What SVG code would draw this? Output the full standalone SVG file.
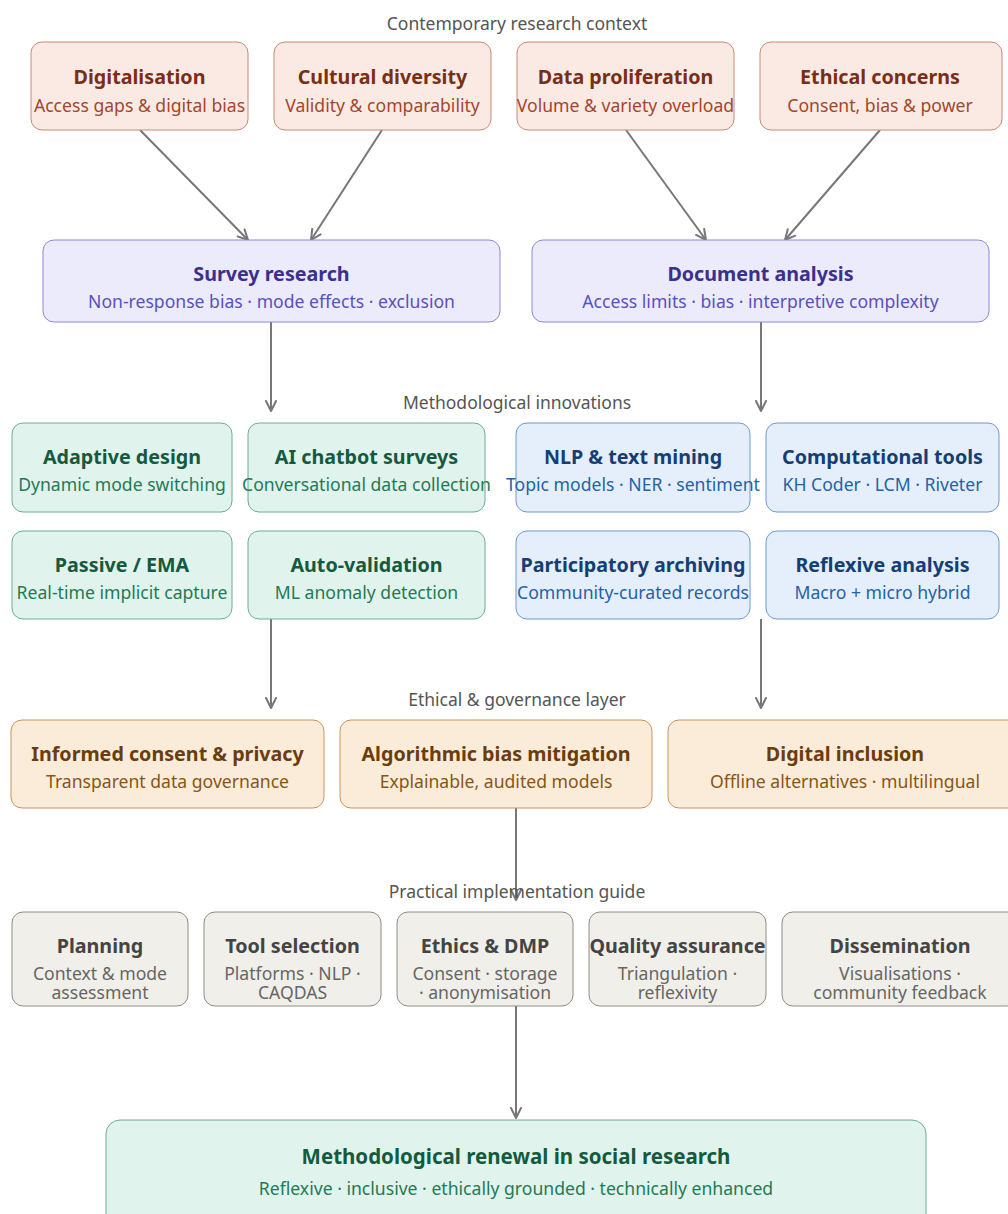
<svg xmlns="http://www.w3.org/2000/svg" width="1008" height="1214" viewBox="0 0 1008 1214">
<defs>
<marker id="ah" viewBox="0 0 12 12" refX="11" refY="6" markerWidth="12" markerHeight="12" markerUnits="userSpaceOnUse" orient="auto">
<path d="M1,1 L11,6 L1,11" fill="none" stroke="#777" stroke-width="2" stroke-linecap="round" stroke-linejoin="round"/>
</marker>
<style>
text{font-family:"Noto Sans","Open Sans","Liberation Sans",sans-serif;text-anchor:middle}
.sec{font-size:17.5px;fill:#555}
.t{font-size:19.7px;font-weight:bold}
.s{font-size:17.6px}
.red rect{fill:#fbeae4;stroke:#c98a75}
.red .t{fill:#7a2e15}.red .s{fill:#a4462a}
.pur rect{fill:#ecebfc;stroke:#8f86d8}
.pur .t{fill:#3b2f8f}.pur .s{fill:#5b4fc0}
.grn rect{fill:#e0f3ec;stroke:#6aae92}
.grn .t{fill:#145a3e}.grn .s{fill:#1f7a55}
.blu rect{fill:#e4effb;stroke:#6d98d2}
.blu .t{fill:#153e75}.blu .s{fill:#2462a8}
.org rect{fill:#fbecd9;stroke:#c4935e}
.org .t{fill:#6b3d0c}.org .s{fill:#8a5514}
.gry rect{fill:#f1efe9;stroke:#8e8c84}
.gry .t{fill:#444}.gry .s{fill:#666}
.conn line{stroke:#777;stroke-width:2;marker-end:url(#ah)}
</style>
</defs>
<rect width="1008" height="1214" fill="#fff"/>

<text class="sec" x="517" y="30">Contemporary research context</text>
<text class="sec" x="517" y="409">Methodological innovations</text>
<text class="sec" x="517" y="706">Ethical &amp; governance layer</text>

<g id="connectors" class="conn">
<line x1="140" y1="130" x2="248" y2="240"/>
<line x1="382" y1="130" x2="311" y2="240"/>
<line x1="626" y1="130" x2="706" y2="240"/>
<line x1="880" y1="130" x2="785" y2="240"/>
<line x1="271" y1="322" x2="271" y2="411"/>
<line x1="761" y1="322" x2="761" y2="411"/>
<line x1="271" y1="619" x2="271" y2="708"/>
<line x1="761" y1="619" x2="761" y2="708"/>
<line x1="516" y1="808" x2="516" y2="900"/>
<line x1="516" y1="1006" x2="516" y2="1118"/>
</g>

<g id="digitalisation" class="red"><rect x="31" y="42" width="217" height="88" rx="11"/><text class="t" x="139.5" y="84">Digitalisation</text><text class="s" x="139.5" y="112">Access gaps &amp; digital bias</text></g>
<g id="cultural" class="red"><rect x="274" y="42" width="217" height="88" rx="11"/><text class="t" x="382.5" y="84">Cultural diversity</text><text class="s" x="382.5" y="112">Validity &amp; comparability</text></g>
<g id="proliferation" class="red"><rect x="517" y="42" width="217" height="88" rx="11"/><text class="t" x="625.5" y="84">Data proliferation</text><text class="s" x="625.5" y="112">Volume &amp; variety overload</text></g>
<g id="ethical" class="red"><rect x="760" y="42" width="242" height="88" rx="11"/><text class="t" x="880" y="84">Ethical concerns</text><text class="s" x="880" y="112">Consent, bias &amp; power</text></g>

<g id="survey" class="pur"><rect x="43" y="240" width="457" height="82" rx="11"/><text class="t" x="271.5" y="281">Survey research</text><text class="s" x="271.5" y="308">Non-response bias · mode effects · exclusion</text></g>
<g id="document" class="pur"><rect x="532" y="240" width="457" height="82" rx="11"/><text class="t" x="760.5" y="281">Document analysis</text><text class="s" x="760.5" y="308">Access limits · bias · interpretive complexity</text></g>

<g id="adaptive" class="grn"><rect x="12" y="423" width="220" height="89" rx="11"/><text class="t" x="122" y="464">Adaptive design</text><text class="s" x="122" y="491">Dynamic mode switching</text></g>
<g id="chatbot" class="grn"><rect x="248" y="423" width="237" height="89" rx="11"/><text class="t" x="366.5" y="464">AI chatbot surveys</text><text class="s" x="366.5" y="491">Conversational data collection</text></g>
<g id="passive" class="grn"><rect x="12" y="531" width="220" height="88" rx="11"/><text class="t" x="122" y="572">Passive / EMA</text><text class="s" x="122" y="599">Real-time implicit capture</text></g>
<g id="autoval" class="grn"><rect x="248" y="531" width="237" height="88" rx="11"/><text class="t" x="366.5" y="572">Auto-validation</text><text class="s" x="366.5" y="599">ML anomaly detection</text></g>

<g id="nlp" class="blu"><rect x="516" y="423" width="234" height="89" rx="11"/><text class="t" x="633" y="464">NLP &amp; text mining</text><text class="s" x="633" y="491">Topic models · NER · sentiment</text></g>
<g id="computational" class="blu"><rect x="766" y="423" width="233" height="89" rx="11"/><text class="t" x="882.5" y="464">Computational tools</text><text class="s" x="882.5" y="491">KH Coder · LCM · Riveter</text></g>
<g id="participatory" class="blu"><rect x="516" y="531" width="234" height="88" rx="11"/><text class="t" x="633" y="572">Participatory archiving</text><text class="s" x="633" y="599">Community-curated records</text></g>
<g id="reflexive" class="blu"><rect x="766" y="531" width="233" height="88" rx="11"/><text class="t" x="882.5" y="572">Reflexive analysis</text><text class="s" x="882.5" y="599">Macro + micro hybrid</text></g>

<g id="consent" class="org"><rect x="11" y="720" width="313" height="88" rx="11"/><text class="t" x="167.5" y="761">Informed consent &amp; privacy</text><text class="s" x="167.5" y="788">Transparent data governance</text></g>
<g id="algobias" class="org"><rect x="340" y="720" width="312" height="88" rx="11"/><text class="t" x="496" y="761">Algorithmic bias mitigation</text><text class="s" x="496" y="788">Explainable, audited models</text></g>
<g id="inclusion" class="org"><rect x="668" y="720" width="354" height="88" rx="11"/><text class="t" x="845" y="761">Digital inclusion</text><text class="s" x="845" y="788">Offline alternatives · multilingual</text></g>

<text class="sec" x="517" y="898">Practical implementation guide</text>

<g id="planning" class="gry"><rect x="12" y="912" width="176" height="94" rx="11"/><text class="t" x="100" y="953">Planning</text><text class="s" x="100" y="980">Context &amp; mode</text><text class="s" x="100" y="999">assessment</text></g>
<g id="toolsel" class="gry"><rect x="204" y="912" width="177" height="94" rx="11"/><text class="t" x="292.5" y="953">Tool selection</text><text class="s" x="292.5" y="980">Platforms · NLP ·</text><text class="s" x="292.5" y="999">CAQDAS</text></g>
<g id="ethicsdmp" class="gry"><rect x="397" y="912" width="176" height="94" rx="11"/><text class="t" x="485" y="953">Ethics &amp; DMP</text><text class="s" x="485" y="980">Consent · storage</text><text class="s" x="485" y="999">· anonymisation</text></g>
<g id="quality" class="gry"><rect x="589" y="912" width="177" height="94" rx="11"/><text class="t" x="677.5" y="953">Quality assurance</text><text class="s" x="677.5" y="980">Triangulation ·</text><text class="s" x="677.5" y="999">reflexivity</text></g>
<g id="dissemination" class="gry"><rect x="782" y="912" width="236" height="94" rx="11"/><text class="t" x="900" y="953">Dissemination</text><text class="s" x="900" y="980">Visualisations ·</text><text class="s" x="900" y="999">community feedback</text></g>

<g id="renewal" class="grn"><rect x="106" y="1120" width="820" height="110" rx="14"/><text class="t" x="516" y="1164" style="font-size:20.5px">Methodological renewal in social research</text><text class="s" x="516" y="1195">Reflexive · inclusive · ethically grounded · technically enhanced</text></g>
</svg>
